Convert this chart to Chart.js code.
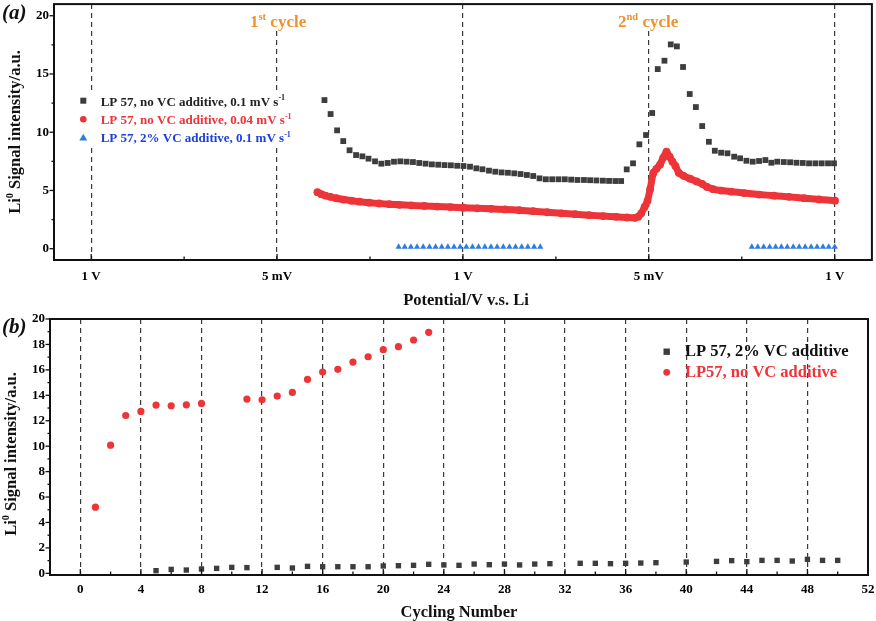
<!DOCTYPE html>
<html><head><meta charset="utf-8">
<script src="https://cdn.jsdelivr.net/npm/chart.js@4.4.0/dist/chart.umd.min.js"></script>
<style>
html,body{margin:0;padding:0;background:#fff;}
#wrap{position:relative;width:876px;height:621px;background:#fff;}
canvas{display:block;position:absolute;left:0;}
#c1{top:0;} #c2{top:310px;}
</style></head><body>
<div id="wrap"><canvas id="c1" width="876" height="310"></canvas><canvas id="c2" width="876" height="311"></canvas></div>
<script>
// ---------- Panel (a) data ----------
const topTickPos = [0, 1, 2, 3, 4];
const topTickLabels = ['1 V', '5 mV', '1 V', '5 mV', '1 V'];
const topYTicks = [0, 5, 10, 15, 20];

const blackX = [1.255,1.288,1.323,1.356,1.390,1.425,1.459,1.492,1.527,1.561,
  1.595,1.629,1.663,1.697,1.731,1.765,1.799,1.833,1.867,1.901,
  1.935,1.969,2.003,2.038,2.072,2.105,2.140,2.174,2.208,2.242,
  2.276,2.310,2.344,2.378,2.412,2.446,2.480,2.514,2.548,2.582,
  2.616,2.651,2.684,2.718,2.753,2.786,2.820,2.851,2.881,2.915,
  2.949,2.985,3.018,3.048,3.084,3.118,3.151,3.184,3.220,3.253,
  3.287,3.323,3.355,3.389,3.423,3.459,3.491,3.525,3.559,3.593,
  3.627,3.659,3.691,3.726,3.760,3.794,3.828,3.862,3.896,3.930,
  3.964,3.996];
const blackY = [12.76,11.56,10.16,9.24,8.45,8.04,7.93,7.73,7.50,7.30,
  7.36,7.47,7.50,7.47,7.44,7.36,7.30,7.24,7.21,7.18,
  7.16,7.12,7.10,7.04,6.90,6.82,6.70,6.61,6.55,6.52,
  6.47,6.41,6.33,6.24,6.04,5.96,5.96,5.96,5.96,5.93,
  5.90,5.90,5.88,5.86,5.84,5.82,5.81,5.81,6.81,7.33,
  8.96,9.76,11.65,15.42,16.14,17.54,17.37,15.60,13.28,12.16,
  10.53,9.18,8.41,8.24,8.19,7.90,7.76,7.55,7.47,7.53,
  7.61,7.38,7.47,7.44,7.42,7.38,7.36,7.33,7.33,7.33,
  7.33,7.33];

const redX = [1.217,1.238,1.260,1.287,1.319,1.357,1.400,1.443,1.496,1.550,
  1.604,1.658,1.722,1.792,1.862,1.932,2.002,2.077,2.152,2.227,
  2.303,2.378,2.453,2.529,2.604,2.679,2.754,2.824,2.883,2.926,
  2.943,2.959,2.977,2.993,3.007,3.024,3.041,3.060,3.077,3.095,
  3.112,3.127,3.143,3.161,3.187,3.222,3.257,3.287,3.313,3.346,
  3.389,3.443,3.512,3.593,3.674,3.754,3.835,3.916,4.002];
const redY = [4.85,4.68,4.56,4.45,4.33,4.22,4.12,4.04,3.95,3.88,
  3.82,3.77,3.72,3.67,3.62,3.57,3.52,3.47,3.42,3.37,
  3.30,3.22,3.13,3.04,2.96,2.88,2.80,2.74,2.68,2.65,
  2.75,3.04,3.58,4.12,5.11,6.50,6.86,7.22,7.80,8.33,
  7.90,7.47,7.11,6.52,6.26,6.01,5.78,5.57,5.30,5.11,
  4.99,4.90,4.78,4.65,4.55,4.45,4.34,4.23,4.12];

const blueX = [1.654,1.687,1.720,1.753,1.786,1.820,1.853,1.886,1.919,1.952,
  1.985,2.018,2.051,2.084,2.118,2.151,2.184,2.217,2.250,2.283,
  2.316,2.349,2.383,2.416,
  3.554,3.586,3.618,3.650,3.682,3.713,3.745,3.777,3.809,3.841,
  3.873,3.905,3.937,3.968,4.000];
const blueY = [0.15,0.15,0.15,0.15,0.15,0.15,0.15,0.15,0.15,0.15,
  0.15,0.15,0.15,0.15,0.15,0.15,0.15,0.15,0.15,0.15,
  0.15,0.15,0.15,0.15,
  0.15,0.15,0.15,0.15,0.15,0.15,0.15,0.15,0.15,0.15,
  0.15,0.15,0.15,0.15,0.15];

// ---------- Panel (b) data ----------
const bottomXTicks = [0,4,8,12,16,20,24,28,32,36,40,44,48,52];
const bottomYTicks = [0,2,4,6,8,10,12,14,16,18,20];
const cyclesNoVC = [1,2,3,4,5,6,7,8,11,12,13,14,15,16,17,18,19,20,21,22,23];
const signalNoVC = [5.2,10.08,12.41,12.73,13.23,13.18,13.25,13.36,13.7,13.65,13.94,14.23,15.25,15.83,16.04,16.61,17.03,17.59,17.82,18.35,18.95];
const cycles2VC = [5,6,7,8,9,10,11,13,14,15,16,17,18,19,20,21,22,23,24,25,26,27,28,29,30,31,33,34,35,36,37,38,40,42,43,44,45,46,47,48,49,50];
const signal2VC = [0.21,0.31,0.26,0.34,0.39,0.47,0.45,0.47,0.42,0.55,0.52,0.52,0.52,0.52,0.58,0.6,0.63,0.71,0.66,0.63,0.73,0.68,0.73,0.66,0.73,0.76,0.79,0.79,0.76,0.79,0.81,0.84,0.89,0.94,1.0,0.92,1.02,1.02,0.97,1.1,1.02,1.02];

// ---------- styling ----------
const FONT = '"Liberation Serif", "Times New Roman", serif';
const C_BLACK = '#3d3d3d', C_RED = '#ec3439', C_BLUE = '#2b7de0', C_BLUE_TXT = '#1f40d6', C_ORANGE = '#f0922b';
const pts = (xs, ys) => xs.map((x, i) => ({x: x, y: ys[i]}));

function drawRich(ctx, parts, x, y, size, color, align) {
  let w = 0;
  parts.forEach(p => { ctx.font = 'bold ' + (p.sup ? size * 0.62 : size) + 'px ' + FONT; w += ctx.measureText(p.t).width; });
  let cx = align === 'center' ? x - w / 2 : x;
  ctx.fillStyle = color; ctx.textBaseline = 'alphabetic'; ctx.textAlign = 'left';
  parts.forEach(p => {
    const s = p.sup ? size * 0.62 : size;
    ctx.font = 'bold ' + s + 'px ' + FONT;
    ctx.fillText(p.t, cx, p.sup ? y - size * 0.4 : y);
    cx += ctx.measureText(p.t).width;
  });
}
function drawRotated(ctx, parts, bx, cy, size, color) {
  ctx.save(); ctx.translate(bx, cy); ctx.rotate(-Math.PI / 2);
  drawRich(ctx, parts, 0, 0, size, color, 'center');
  ctx.restore();
}
function marker(ctx, type, x, y, color, r) {
  ctx.fillStyle = color; ctx.beginPath();
  if (type === 'rect') ctx.rect(x - r, y - r, 2 * r, 2 * r);
  else if (type === 'circle') ctx.arc(x, y, r, 0, Math.PI * 2);
  else { ctx.moveTo(x, y - r * 1.1); ctx.lineTo(x + r * 1.1, y + r * 0.8); ctx.lineTo(x - r * 1.1, y + r * 0.8); ctx.closePath(); }
  ctx.fill();
}
function seg(ctx, x1, y1, x2, y2) { ctx.beginPath(); ctx.moveTo(x1, y1); ctx.lineTo(x2, y2); ctx.stroke(); }
function blank(ctx, x, y, w, h) { ctx.fillStyle = '#fff'; ctx.fillRect(x, y, w, h); }

function framePlugin(cfg) {
  return {
    id: 'frame' + cfg.name,
    afterDraw(chart) {
      const ctx = chart.ctx, a = chart.chartArea, x = chart.scales.x, y = chart.scales.y;
      ctx.save();
      cfg.draw(ctx, chart);
      ctx.strokeStyle = '#111'; ctx.lineWidth = 1.3;
      cfg.xMajor.forEach(v => { const p = x.getPixelForValue(v); seg(ctx, p, a.bottom, p, a.bottom - 6); });
      cfg.xMinor.forEach(v => { const p = x.getPixelForValue(v); seg(ctx, p, a.bottom, p, a.bottom - 3.5); });
      cfg.yMajor.forEach(v => { const p = y.getPixelForValue(v); seg(ctx, a.left, p, a.left - 4.5, p); });
      cfg.yMinor.forEach(v => { const p = y.getPixelForValue(v); seg(ctx, a.left, p, a.left - 2.5, p); });
      ctx.lineWidth = 2; ctx.strokeStyle = '#111';
      ctx.strokeRect(a.left, a.top, a.right - a.left, a.bottom - a.top);
      ctx.restore();
    }
  };
}

function noPad(s) { s.paddingTop = 0; s.paddingBottom = 0; s.paddingLeft = 0; s.paddingRight = 0; }
function scaleX(min, max, ticks, labels, h, pad) {
  return {
    type: 'linear', min: min, max: max,
    afterBuildTicks: s => { s.ticks = ticks.map(v => ({value: v})); },
    afterFit: s => { s.height = h; noPad(s); },
    grid: { display: true, drawOnChartArea: true, drawTicks: false, color: '#3a3a3a', lineWidth: 1.2 },
    border: { display: false, dash: [5, 4] },
    ticks: { autoSkip: false, maxRotation: 0, padding: pad, color: '#000',
      font: { family: FONT, size: 13, weight: 'bold' },
      callback: (v, i) => labels ? labels[i] : String(v) }
  };
}
function scaleY(min, max, ticks, w) {
  return {
    type: 'linear', min: min, max: max,
    afterBuildTicks: s => { s.ticks = ticks.map(v => ({value: v})); },
    afterFit: s => { s.width = w; noPad(s); },
    grid: { display: false, drawTicks: false },
    border: { display: false },
    ticks: { padding: 5, color: '#000', font: { family: FONT, size: 13, weight: 'bold' } }
  };
}

// ---------- Chart (a) ----------
new Chart(document.getElementById('c1'), {
  type: 'scatter',
  data: { datasets: [
    { label: 'LP 57, no VC additive, 0.1 mV s-1', data: pts(blackX, blackY), pointStyle: 'rect', pointRadius: 4.1, backgroundColor: C_BLACK, borderWidth: 0, showLine: false },
    { label: 'LP 57, no VC additive, 0.04 mV s-1', data: pts(redX, redY), pointStyle: 'circle', pointRadius: 3.9, backgroundColor: C_RED, pointBackgroundColor: C_RED, borderColor: C_RED, pointBorderWidth: 0, borderWidth: 7, showLine: true, tension: 0.2 },
    { label: 'LP 57, 2% VC additive, 0.1 mV s-1', data: pts(blueX, blueY), pointStyle: 'triangle', pointRadius: 3.6, backgroundColor: C_BLUE, borderWidth: 0, showLine: false }
  ]},
  options: {
    responsive: false, animation: false, devicePixelRatio: 1,
    layout: { padding: { left: 0, top: 4, right: 3, bottom: 0 } },
    plugins: { legend: { display: false }, tooltip: { enabled: false } },
    scales: { x: scaleX(-0.2, 4.2, topTickPos, topTickLabels, 50, 9), y: scaleY(-0.97, 21.0, topYTicks, 54) }
  },
  plugins: [framePlugin({ name: 'a', xMajor: topTickPos, xMinor: [0.5, 1.5, 2.5, 3.5], yMajor: topYTicks, yMinor: [2.5, 7.5, 12.5, 17.5],
    draw(ctx) {
      ctx.fillStyle = '#111'; ctx.font = 'italic bold 21px ' + FONT; ctx.textBaseline = 'alphabetic'; ctx.textAlign = 'left';
      ctx.fillText('(a)', 2, 19);
      drawRotated(ctx, [{t: 'Li'}, {t: '0', sup: true}, {t: ' Signal intensity/a.u.'}], 20, 132, 16.5, '#111');
      drawRich(ctx, [{t: 'Potential/V v.s. Li'}], 466, 304.5, 16.5, '#111', 'center');
      blank(ctx, 247, 5, 63, 25);
      blank(ctx, 615, 5, 68, 25);
      drawRich(ctx, [{t: '1'}, {t: 'st', sup: true}, {t: ' cycle'}], 250, 26.5, 17, C_ORANGE, 'left');
      drawRich(ctx, [{t: '2'}, {t: 'nd', sup: true}, {t: ' cycle'}], 618, 26.5, 17, C_ORANGE, 'left');
      blank(ctx, 75, 90, 222, 57);
      marker(ctx, 'rect', 83.3, 100.7, C_BLACK, 3);
      marker(ctx, 'circle', 83.3, 119.3, C_RED, 3.3);
      marker(ctx, 'tri', 83.3, 137.7, C_BLUE, 3.6);
      drawRich(ctx, [{t: 'LP 57, no VC additive, 0.1 mV s'}, {t: '-1', sup: true}], 100.7, 105.5, 13, '#222', 'left');
      drawRich(ctx, [{t: 'LP 57, no VC additive, 0.04 mV s'}, {t: '-1', sup: true}], 100.7, 124, 13, C_RED, 'left');
      drawRich(ctx, [{t: 'LP 57, 2% VC additive, 0.1 mV s'}, {t: '-1', sup: true}], 100.7, 142.3, 13, C_BLUE_TXT, 'left');
    } })]
});

// ---------- Chart (b) ----------
new Chart(document.getElementById('c2'), {
  type: 'scatter',
  data: { datasets: [
    { label: 'LP 57, 2% VC additive', data: pts(cycles2VC, signal2VC), pointStyle: 'rect', pointRadius: 3.8, backgroundColor: C_BLACK, borderWidth: 0 },
    { label: 'LP57, no VC additive', data: pts(cyclesNoVC, signalNoVC), pointStyle: 'circle', pointRadius: 3.6, backgroundColor: C_RED, borderWidth: 0 }
  ]},
  options: {
    responsive: false, animation: false, devicePixelRatio: 1,
    layout: { padding: { left: 0, top: 9, right: 8, bottom: 0 } },
    plugins: { legend: { display: false }, tooltip: { enabled: false } },
    scales: { x: scaleX(-2, 52, bottomXTicks, null, 46, 7), y: scaleY(-0.13, 20, bottomYTicks, 50) }
  },
  plugins: [framePlugin({ name: 'b', xMajor: bottomXTicks, xMinor: [2,6,10,14,18,22,26,30,34,38,42,46,50], yMajor: bottomYTicks, yMinor: [1,3,5,7,9,11,13,15,17,19],
    draw(ctx) {
      ctx.fillStyle = '#111'; ctx.font = 'italic bold 21px ' + FONT; ctx.textBaseline = 'alphabetic'; ctx.textAlign = 'left';
      ctx.fillText('(b)', 2, 23);
      drawRotated(ctx, [{t: 'Li'}, {t: '0', sup: true}, {t: ' Signal intensity/a.u.'}], 15.5, 144, 16.5, '#111');
      drawRich(ctx, [{t: 'Cycling Number'}], 459, 306.5, 16.5, '#111', 'center');
      marker(ctx, 'rect', 666.7, 41.7, C_BLACK, 3.2);
      marker(ctx, 'circle', 666.7, 62.3, C_RED, 3.4);
      drawRich(ctx, [{t: 'LP 57, 2% VC additive'}], 685, 46.3, 16.5, '#111', 'left');
      drawRich(ctx, [{t: 'LP57, no VC additive'}], 685, 67.2, 16.5, C_RED, 'left');
    } })]
});
</script></body></html>
